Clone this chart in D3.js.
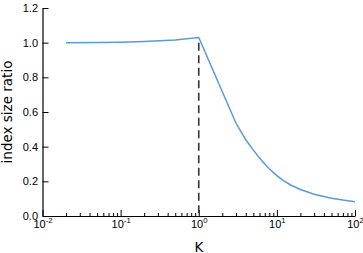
<!DOCTYPE html>
<meta charset="utf-8">
<style>
body { margin: 0; background: #fff; }
svg { font-family: "DejaVu Sans", sans-serif; }
.axis .domain { stroke: #000; stroke-width: 1.2; }
.axis line { stroke: #000; }
</style>
<body>
<script src="https://cdnjs.cloudflare.com/ajax/libs/d3/7.8.5/d3.min.js"></script>
<script>

// K values and index size ratio
var kValues = [0.02, 0.05, 0.1, 0.2, 0.5, 1, 3, 4, 5, 6, 7, 8, 10, 12, 15, 20, 30, 40, 50, 70, 100];
var ratios  = [1.000, 1.001, 1.003, 1.007, 1.016, 1.03, 0.535, 0.44, 0.38, 0.335, 0.30, 0.273, 0.233, 0.206, 0.179, 0.153, 0.126, 0.112, 0.103, 0.092, 0.082];
var cutoffK = 1;
var yTicks = [0, 0.2, 0.4, 0.6, 0.8, 1.0, 1.2];
var xDecades = [-2, -1, 0, 1, 2];

var width = 363, height = 253;
var margin = {top: 8, right: 8, bottom: 37, left: 42.5};

var svg = d3.select("body").append("svg")
  .attr("width", width)
  .attr("height", height);

var x = d3.scaleLog()
  .domain([0.01, 100])
  .range([margin.left, width - margin.right]);

var y = d3.scaleLinear()
  .domain([0, 1.2])
  .range([height - margin.bottom, margin.top]);

// minor ticks 2..9 in each decade
var minor = [];
xDecades.slice(0, -1).forEach(function(e) {
  for (var m = 2; m <= 9; m++) minor.push(m * Math.pow(10, e));
});
var major = xDecades.map(function(e) { return Math.pow(10, e); });

var xAxis = d3.axisBottom(x)
  .tickValues(major.concat(minor))
  .tickSizeInner(-3)
  .tickSizeOuter(0)
  .tickFormat(function() { return ""; });

var gx = svg.append("g")
  .attr("class", "x axis")
  .attr("transform", "translate(0," + y(0) + ")")
  .call(xAxis);

gx.selectAll(".tick")
  .filter(function(d) { return major.indexOf(d) >= 0; })
  .each(function(d, i) {
    var g = d3.select(this);
    g.select("line").attr("y2", -6);
    g.select("text").remove();
    var t = g.append("text")
      .attr("fill", "#000")
      .attr("y", 11.5)
      .attr("text-anchor", "middle")
      .style("font-size", "11px");
    t.append("tspan").text("10");
    t.append("tspan")
      .attr("dy", -4.5)
      .style("font-size", "7.7px")
      .text(xDecades[i] < 0 ? "-" + Math.abs(xDecades[i]) : xDecades[i]);
  });

var yAxis = d3.axisLeft(y)
  .tickValues(yTicks)
  .tickSizeInner(-6)
  .tickSizeOuter(0)
  .tickPadding(4.5)
  .tickFormat(d3.format(".1f"));

svg.append("g")
  .attr("class", "y axis")
  .attr("transform", "translate(" + margin.left + ",0)")
  .call(yAxis)
  .selectAll("text")
  .style("font-size", "11px")
  .attr("fill", "#000");

// dashed cut-off line
svg.append("line")
  .attr("x1", x(cutoffK)).attr("x2", x(cutoffK))
  .attr("y1", y(1.0)).attr("y2", y(0))
  .attr("stroke", "#333")
  .attr("stroke-width", 1.6)
  .attr("stroke-dasharray", "8,4.5");

var line = d3.line()
  .x(function(d, i) { return x(kValues[i]); })
  .y(function(d) { return y(d); });

svg.append("path")
  .datum(ratios)
  .attr("fill", "none")
  .attr("stroke", "#5b9bd5")
  .attr("stroke-width", 1.5)
  .attr("d", line);

svg.append("text")
  .attr("transform", "translate(11.7," + 112 + ") rotate(-90)")
  .attr("text-anchor", "middle")
  .style("font-size", "13.5px")
  .text("index size ratio");

svg.append("text")
  .attr("x", 199)
  .attr("y", 251.5)
  .attr("text-anchor", "middle")
  .style("font-size", "13.5px")
  .text("K");

</script>
